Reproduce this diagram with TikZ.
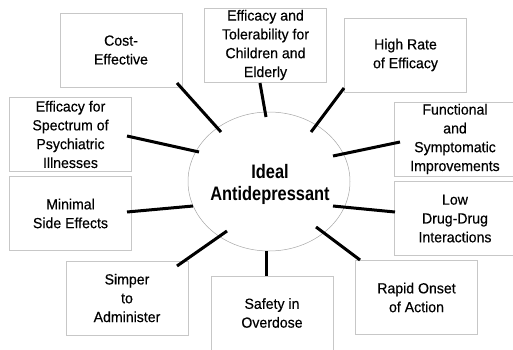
\documentclass[tikz,border=0pt]{standalone}
\usepackage{fontspec}
\usetikzlibrary{shapes.geometric}
\setmainfont{Liberation Sans}[FakeStretch=0.96,FakeBold=0.35]
\newfontfamily\hubfont{Liberation Sans}[FakeStretch=0.84]
\begin{document}
\begin{tikzpicture}[x=1pt,y=-1pt,
  box/.style={draw=black!22,line width=0.9pt,minimum width=122pt,minimum height=74pt,
    inner sep=0pt,align=center,font=\fontsize{14.7}{18.8}\selectfont},
  spoke/.style={line width=3pt,black},
  ring/.style={draw=black!35,line width=0.5pt,ellipse,minimum width=162pt,minimum height=139pt,inner sep=0pt},
  hubtext/.style={align=center,font=\hubfont\bfseries\fontsize{19.5}{22}\selectfont}]
\useasboundingbox (0,0) rectangle (513,350);

% central ellipse
\node[ring] (hubshape) at (269,181.5) {};
\node[hubtext] (hub) at (270,184) {Ideal\\Antidepressant};

% surrounding boxes
\node[box] (cost)  at (121,50)    {Cost-\\Effective};
\node[box] (tol)   at (265.5,45)  {Efficacy and\\Tolerability for\\Children and\\Elderly};
\node[box] (high)  at (405.5,55)  {High Rate\\of Efficacy};
\node[box] (func)  at (455,139)   {Functional\\and\\Symptomatic\\Improvements};
\node[box] (ddi)   at (455,218.5) {Low\\Drug-Drug\\Interactions};
\node[box] (rapid) at (416.5,297.5) {Rapid Onset\\of Action};
\node[box] (safe)  at (272,313)   {Safety in\\Overdose};
\node[box] (simp)  at (127,298)   {Simper\\to\\Administer};
\node[box] (side)  at (70.5,213.5) {Minimal\\Side Effects};
\node[box] (spec)  at (70.5,134.5) {Efficacy for\\Spectrum of\\Psychiatric\\Illnesses};

% spoke end points
\coordinate (costA)  at (177,83);   \coordinate (costB)  at (221,132);
\coordinate (tolA)   at (260,83);   \coordinate (tolB)   at (266,117);
\coordinate (highA)  at (344,88);   \coordinate (highB)  at (311,132);
\coordinate (funcA)  at (400,142);  \coordinate (funcB)  at (333,156);
\coordinate (ddiA)   at (395,212);  \coordinate (ddiB)   at (333,206);
\coordinate (rapidA) at (360,260);  \coordinate (rapidB) at (316,227);
\coordinate (safeA)  at (266,276);  \coordinate (safeB)  at (266,251);
\coordinate (simpA)  at (177,266);  \coordinate (simpB)  at (227,231);
\coordinate (sideA)  at (127,212);  \coordinate (sideB)  at (193,206);
\coordinate (specA)  at (127,136);  \coordinate (specB)  at (199,152);

% spokes
\foreach \s in {cost,tol,high,func,ddi,rapid,safe,simp,side,spec}
  \draw[spoke] (\s A) -- (\s B);
\end{tikzpicture}
\end{document}
